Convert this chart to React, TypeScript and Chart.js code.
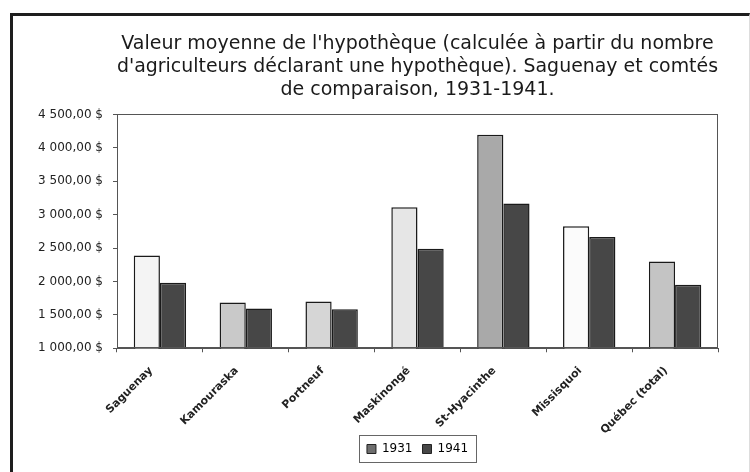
import { useEffect, useRef } from "react";
import { Chart, registerables } from "chart.js";

Chart.register(...registerables);

const categories = [
  "Saguenay",
  "Kamouraska",
  "Portneuf",
  "Maskinongé",
  "St-Hyacinthe",
  "Missisquoi",
  "Québec (total)",
];
const values1931 = [2390, 1685, 1700, 3110, 4195, 2825, 2300];
const values1941 = [1980, 1595, 1585, 2490, 3165, 2665, 1950];
const colors1931 = ["#f4f4f4", "#c9c9c9", "#d6d6d6", "#e6e6e6", "#a9a9a9", "#fbfbfb", "#c4c4c4"];
const color1941 = "#474747";
const legendColor1931 = "#6e6e6e";
const seriesLabels = ["1931", "1941"];
const titleLines = [
  "Valeur moyenne de l'hypothèque (calculée à partir du nombre",
  "d'agriculteurs déclarant une hypothèque). Saguenay et comtés",
  "de comparaison, 1931-1941.",
];
const yMin = 1000;
const yMax = 4500;
const yStep = 500;

const FONT = "'DejaVu Sans', 'Liberation Sans', sans-serif";

function formatDollars(v: number): string {
  const s = v.toFixed(2);
  const [i, d] = s.split(".");
  return i.replace(/\B(?=(\d{3})+(?!\d))/g, " ") + "," + d + " $";
}

const framePlugin = {
  id: "plotFrame",
  afterDraw(chart: any) {
    const { ctx, chartArea: a } = chart;
    ctx.save();
    ctx.strokeStyle = "#555";
    ctx.lineWidth = 1;
    ctx.strokeRect(Math.round(a.left) + 0.5, Math.round(a.top) + 0.5, Math.round(a.right - a.left) - 1, Math.round(a.bottom - a.top) - 1);
    const lg = chart.legend;
    if (lg && lg.legendHitBoxes && lg.legendHitBoxes.length) {
      let minX = Infinity, minY = Infinity, maxX = -Infinity, maxY = -Infinity;
      for (const b of lg.legendHitBoxes) {
        minX = Math.min(minX, b.left);
        minY = Math.min(minY, b.top);
        maxX = Math.max(maxX, b.left + b.width);
        maxY = Math.max(maxY, b.top + b.height);
      }
      ctx.strokeStyle = "#666";
      ctx.strokeRect(Math.round(minX - 8) + 0.5, Math.round(minY - 8) + 0.5, Math.round(maxX - minX + 16), Math.round(maxY - minY + 15));
    }
    ctx.restore();
  },
};

export default function App() {
  const ref = useRef<HTMLCanvasElement | null>(null);

  useEffect(() => {
    if (!ref.current) return;
    const chart = new Chart(ref.current, {
      type: "bar",
      data: {
        labels: categories,
        datasets: [
          {
            label: seriesLabels[0],
            data: values1931,
            backgroundColor: colors1931,
            borderColor: "#1a1a1a",
            borderWidth: 1.5,
          },
          {
            label: seriesLabels[1],
            data: values1941,
            backgroundColor: color1941,
            borderColor: "#1a1a1a",
            borderWidth: 1.5,
          },
        ],
      },
      options: {
        animation: false,
        responsive: true,
        maintainAspectRatio: false,
        layout: { padding: { left: 0, right: 30, top: 0, bottom: 7 } },
        datasets: { bar: { categoryPercentage: 0.61, barPercentage: 1 } },
        plugins: {
          title: {
            display: true,
            fullSize: false,
            text: titleLines,
            color: "#1a1a1a",
            font: { family: FONT, size: 19, weight: "normal", lineHeight: 1.2 },
            padding: { top: 17, bottom: 13 },
          },
          legend: {
            position: "bottom",
            fullSize: false,
            labels: {
              font: { family: FONT, size: 12 },
              color: "#222",
              boxWidth: 9,
              boxHeight: 9,
              padding: 10,
              generateLabels: () => [
                { text: seriesLabels[0], fillStyle: legendColor1931, strokeStyle: "#222", lineWidth: 1, datasetIndex: 0, hidden: false },
                { text: seriesLabels[1], fillStyle: color1941, strokeStyle: "#222", lineWidth: 1, datasetIndex: 1, hidden: false },
              ],
            },
          },
          tooltip: { enabled: false },
        },
        scales: {
          x: {
            grid: { display: true, drawOnChartArea: false, offset: true, tickLength: 4, color: "#555" },
            border: { display: true, color: "#555" },
            ticks: {
              minRotation: 45,
              maxRotation: 45,
              font: { family: FONT, size: 11, weight: "bold" },
              color: "#222",
              padding: 12,
              labelOffset: -9,
            },
            afterFit: (scale: any) => {
              scale.height = scale.height - 16;
            },
          },
          y: {
            min: yMin,
            max: yMax,
            grid: { display: true, drawOnChartArea: false, tickLength: 4, color: "#555" },
            border: { display: true, color: "#555" },
            ticks: {
              stepSize: yStep,
              font: { family: FONT, size: 12 },
              color: "#222",
              padding: 10,
              callback: (v: any) => formatDollars(Number(v)),
            },
            afterFit: (scale: any) => {
              scale.width = 104;
            },
          },
        },
      },
      plugins: [framePlugin],
    });
    return () => chart.destroy();
  }, []);

  return (
    <div
      style={{
        position: "absolute",
        left: 10,
        top: 13,
        width: 736,
        height: 470,
        borderTop: "3px solid #1e1e1e",
        borderLeft: "3px solid #1e1e1e",
        borderRight: "1px solid #ddd",
        background: "#fff",
      }}
    >
      <div style={{ position: "absolute", left: 0, top: 0, width: 735, height: 456 }}>
        <canvas ref={ref} />
      </div>
    </div>
  );
}
